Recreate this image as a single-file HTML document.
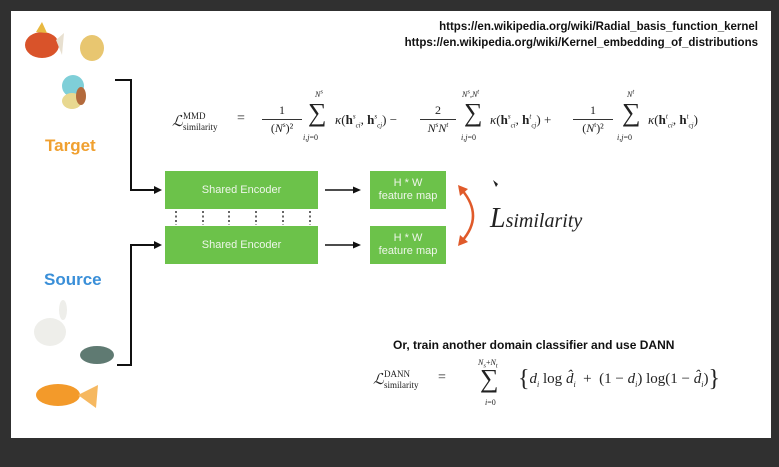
<!DOCTYPE html>
<html><head><meta charset="utf-8"><style>
*{margin:0;padding:0;box-sizing:border-box}
body{width:779px;height:467px;background:#303030;position:relative;overflow:hidden;font-family:"Liberation Sans",sans-serif}
.slide{position:absolute;left:11px;top:11px;width:760px;height:427px;background:#fff}
.a{position:absolute;white-space:nowrap}
.box{position:absolute;background:#6cc24a;display:flex;align-items:center;justify-content:center;text-align:center;color:#eef6ea;font-size:11px;line-height:13px}
.m{font-family:"Liberation Serif",serif;color:#222}
.url{font-weight:bold;font-size:11.5px;color:#111;right:21px}
</style></head><body>
<div class="slide"></div>
<div class="a url" style="top:21px">https://en.wikipedia.org/wiki/Radial_basis_function_kernel</div>
<div class="a url" style="top:37px">https://en.wikipedia.org/wiki/Kernel_embedding_of_distributions</div>

<svg style="position:absolute;left:0;top:0" width="779" height="467">
 <ellipse cx="42" cy="45" rx="17" ry="13" fill="#d9532a"/>
 <polygon points="56,40 64,33 62,55" fill="#e8e0d0"/>
 <polygon points="36,32 42,22 47,33" fill="#e8b840"/>
 <ellipse cx="92" cy="48" rx="12" ry="13" fill="#e8c670"/>
 <ellipse cx="73" cy="86" rx="11" ry="11" fill="#7fcfd8"/>
 <ellipse cx="72" cy="101" rx="10" ry="8" fill="#e8d890"/>
 <ellipse cx="81" cy="96" rx="5" ry="9" fill="#b36a3c"/>
 <ellipse cx="50" cy="332" rx="16" ry="14" fill="#eeeeea"/>
 <ellipse cx="63" cy="310" rx="4" ry="10" fill="#eeeeea"/>
 <ellipse cx="97" cy="355" rx="17" ry="9" fill="#5f7a72"/>
 <ellipse cx="58" cy="395" rx="22" ry="11" fill="#f39a2a"/>
 <polygon points="78,395 98,385 96,408" fill="#f6b860"/>
 <polyline points="115,80 131,80 131,190 155,190" fill="none" stroke="#111" stroke-width="2"/>
 <polygon points="162,190 154,186 154,194" fill="#111"/>
 <polyline points="117,365 131,365 131,245 155,245" fill="none" stroke="#111" stroke-width="2"/>
 <polygon points="162,245 154,241 154,249" fill="#111"/>
 <line x1="325" y1="190" x2="354" y2="190" stroke="#111" stroke-width="1.5"/>
 <polygon points="361,190 353,186.5 353,193.5" fill="#111"/>
 <line x1="325" y1="245" x2="354" y2="245" stroke="#111" stroke-width="1.5"/>
 <polygon points="361,245 353,241.5 353,248.5" fill="#111"/>
 <g stroke="#333" stroke-width="1.5" stroke-dasharray="2,2.5">
  <line x1="176" y1="211" x2="176" y2="225"/><line x1="203" y1="211" x2="203" y2="225"/>
  <line x1="229" y1="211" x2="229" y2="225"/><line x1="256" y1="211" x2="256" y2="225"/>
  <line x1="283" y1="211" x2="283" y2="225"/><line x1="310" y1="211" x2="310" y2="225"/>
 </g>
 <path d="M462,190 Q484,216 462,241" fill="none" stroke="#e05a2a" stroke-width="2.5"/>
 <polygon points="458,185 468,189 460,196" fill="#e05a2a"/>
 <polygon points="458,246 468,242 460,235" fill="#e05a2a"/>
 <polygon points="493,180 496,187 498,184" fill="#222"/>
</svg>

<div class="a" style="left:45px;top:136px;font-weight:bold;font-size:17px;color:#f0a030">Target</div>
<div class="a" style="left:44px;top:270px;font-weight:bold;font-size:17px;color:#3a8fd8">Source</div>

<div class="box" style="left:165px;top:171px;width:153px;height:38px">Shared Encoder</div>
<div class="box" style="left:165px;top:226px;width:153px;height:38px">Shared Encoder</div>
<div class="box" style="left:370px;top:171px;width:76px;height:38px">H * W<br>feature map</div>
<div class="box" style="left:370px;top:226px;width:76px;height:38px">H * W<br>feature map</div>

<div class="a m" style="left:490px;top:203px;font-size:28px;font-style:italic">L<span style="font-size:20px">similarity</span></div>

<div class="a m" style="left:172px;top:112px;font-size:15px;font-style:italic">ℒ</div>
<div class="a m" style="left:183px;top:111px;font-size:9px">MMD</div>
<div class="a m" style="left:183px;top:122px;font-size:9px">similarity</div>
<div class="a m" style="left:237px;top:111px;font-size:14px">=</div>
<div class="a m" style="left:262px;top:103px;font-size:12px;width:40px;text-align:center">1</div>
<div class="a" style="left:262px;top:119px;width:40px;border-top:1px solid #333"></div>
<div class="a m" style="left:262px;top:121px;font-size:12px;width:40px;text-align:center">(<i>N</i><sup style="font-size:7px">s</sup>)²</div>
<div class="a m" style="left:315px;top:88px;font-size:8px"><i>N<sup>s</sup></i></div>
<div class="a m" style="left:308px;top:98px;font-size:26px">∑</div>
<div class="a m" style="left:303px;top:133px;font-size:8px"><i>i,j</i>=0</div>
<div class="a m" style="left:335px;top:112px;font-size:13px"><i>κ</i>(<b>h</b><sup style="font-size:7px"><i>s</i></sup><sub style="font-size:7px"><i>ci</i></sub>, <b>h</b><sup style="font-size:7px"><i>s</i></sup><sub style="font-size:7px"><i>cj</i></sub>) −</div>
<div class="a m" style="left:420px;top:103px;font-size:12px;width:36px;text-align:center">2</div>
<div class="a" style="left:420px;top:119px;width:36px;border-top:1px solid #333"></div>
<div class="a m" style="left:420px;top:121px;font-size:12px;width:36px;text-align:center"><i>N<sup style="font-size:7px">s</sup>N<sup style="font-size:7px">t</sup></i></div>
<div class="a m" style="left:462px;top:88px;font-size:8px"><i>N<sup>s</sup>,N<sup>t</sup></i></div>
<div class="a m" style="left:464px;top:98px;font-size:26px">∑</div>
<div class="a m" style="left:461px;top:133px;font-size:8px"><i>i,j</i>=0</div>
<div class="a m" style="left:490px;top:112px;font-size:13px"><i>κ</i>(<b>h</b><sup style="font-size:7px"><i>s</i></sup><sub style="font-size:7px"><i>ci</i></sub>, <b>h</b><sup style="font-size:7px"><i>t</i></sup><sub style="font-size:7px"><i>cj</i></sub>) +</div>
<div class="a m" style="left:573px;top:103px;font-size:12px;width:40px;text-align:center">1</div>
<div class="a" style="left:573px;top:119px;width:40px;border-top:1px solid #333"></div>
<div class="a m" style="left:573px;top:121px;font-size:12px;width:40px;text-align:center">(<i>N</i><sup style="font-size:7px">t</sup>)²</div>
<div class="a m" style="left:627px;top:88px;font-size:8px"><i>N<sup>t</sup></i></div>
<div class="a m" style="left:622px;top:98px;font-size:26px">∑</div>
<div class="a m" style="left:617px;top:133px;font-size:8px"><i>i,j</i>=0</div>
<div class="a m" style="left:648px;top:112px;font-size:13px"><i>κ</i>(<b>h</b><sup style="font-size:7px"><i>t</i></sup><sub style="font-size:7px"><i>ci</i></sub>, <b>h</b><sup style="font-size:7px"><i>t</i></sup><sub style="font-size:7px"><i>cj</i></sub>)</div>

<div class="a" style="left:393px;top:338px;font-weight:bold;font-size:12px;color:#111">Or, train another domain classifier and use DANN</div>

<div class="a m" style="left:373px;top:370px;font-size:15px;font-style:italic">ℒ</div>
<div class="a m" style="left:384px;top:369px;font-size:9px">DANN</div>
<div class="a m" style="left:384px;top:380px;font-size:9px">similarity</div>
<div class="a m" style="left:438px;top:370px;font-size:14px">=</div>
<div class="a m" style="left:478px;top:358px;font-size:8px"><i>N<sub>s</sub></i>+<i>N<sub>t</sub></i></div>
<div class="a m" style="left:480px;top:364px;font-size:26px">∑</div>
<div class="a m" style="left:485px;top:398px;font-size:8px"><i>i</i>=0</div>
<div class="a m" style="left:518px;top:366px;font-size:15px"><span style="font-size:24px;vertical-align:-3px">{</span><i>d<sub style="font-size:8px">i</sub></i> log <i>d̂<sub style="font-size:8px">i</sub></i> &nbsp;+&nbsp; (1 − <i>d<sub style="font-size:8px">i</sub></i>) log(1 − <i>d̂<sub style="font-size:8px">i</sub></i>)<span style="font-size:24px;vertical-align:-3px">}</span></div>
</body></html>
